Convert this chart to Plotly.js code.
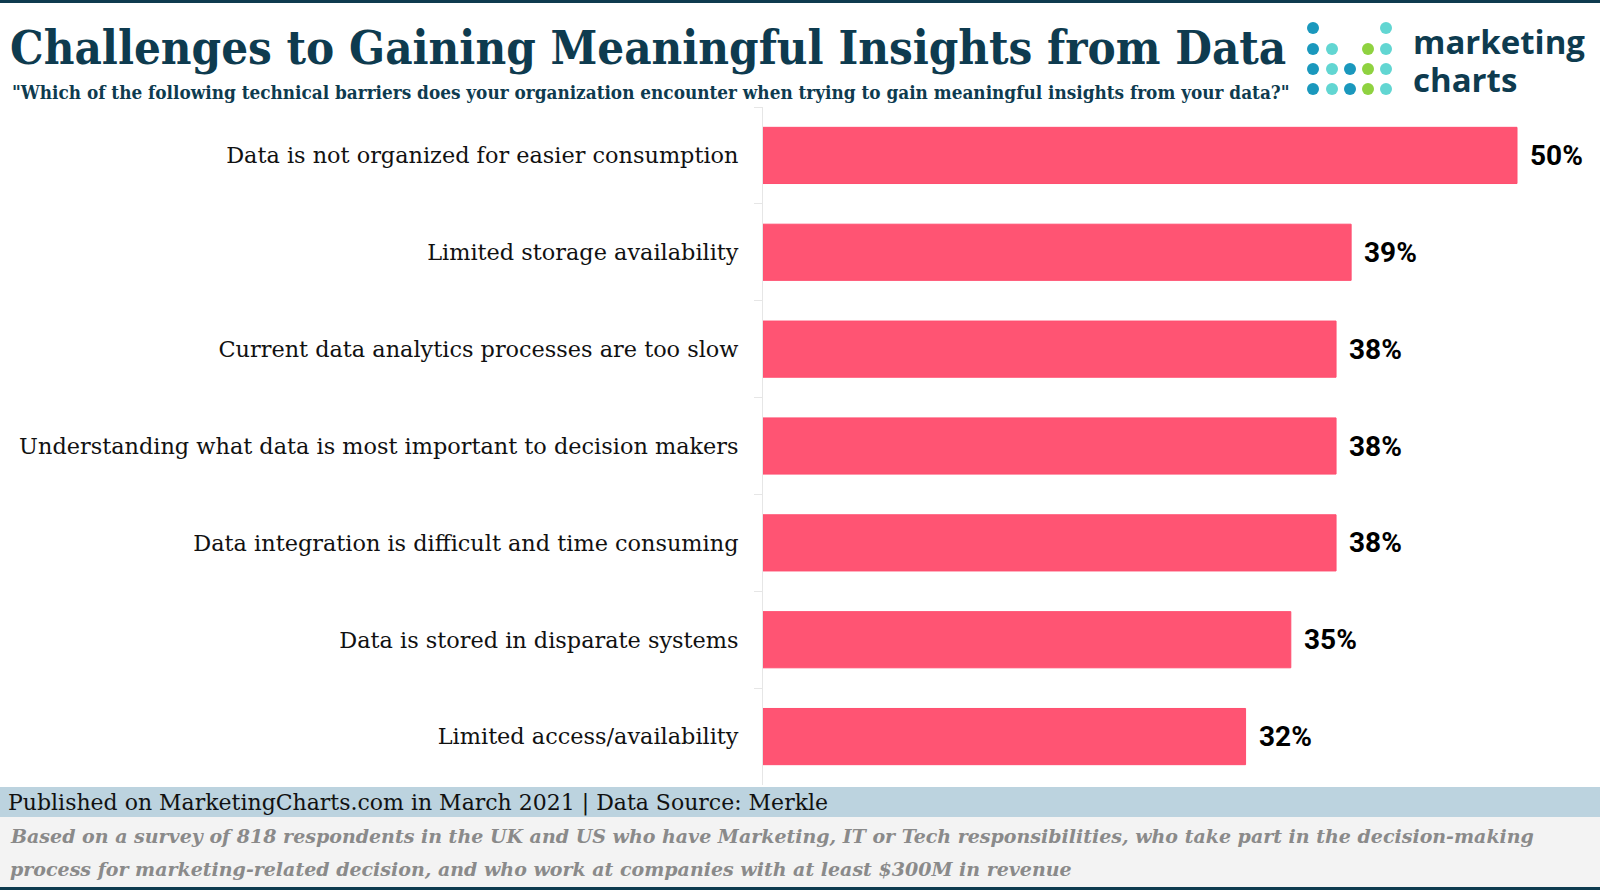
<!DOCTYPE html>
<html>
<head>
<meta charset="utf-8">
<script src="https://cdn.plot.ly/plotly-3.0.1.min.js"></script>
<style>
html,body{margin:0;padding:0;background:#fff;}
#chart{width:1600px;height:890px;}
</style>
</head>
<body>
<div id="chart"></div>
<script>
const categories = [
  "Data is not organized for easier consumption",
  "Limited storage availability",
  "Current data analytics processes are too slow",
  "Understanding what data is most important to decision makers",
  "Data integration is difficult and time consuming",
  "Data is stored in disparate systems",
  "Limited access/availability"
];
const values = [50, 39, 38, 38, 38, 35, 32];

const W = 1600, H = 890;
const px = x => x / W;
const py = y => 1 - y / H;

const DARK = "#0e3b4f";
const SERIF = "DejaVu Serif, serif";
const CSERIF = "DejaVu Serif Condensed, DejaVu Serif, serif";

const trace = {
  type: "bar",
  orientation: "h",
  x: values,
  y: categories,
  marker: {color: "#ff5473", line: {color: "#ff4f70", width: 1}},
  hoverinfo: "skip",
  cliponaxis: false
};

const annotations = values.map((v, i) => ({
  x: v, y: categories[i], xref: "x", yref: "y",
  text: v + "%", showarrow: false, xanchor: "left", yanchor: "middle",
  xshift: 11,
  font: {family: "Roboto, sans-serif", size: 28, color: "#000", weight: 700}
}));

annotations.push({
  xref: "paper", yref: "paper", x: px(10), y: py(92), xanchor: "left", yanchor: "middle",
  text: "\"Which of the following technical barriers does your organization encounter when trying to gain meaningful insights from your data?\"",
  showarrow: false, font: {family: CSERIF, size: 18.8, color: DARK, weight: 700}
});
annotations.push({
  xref: "paper", yref: "paper", x: px(1411), y: py(42), xanchor: "left", yanchor: "middle",
  text: "marketing", showarrow: false,
  font: {family: "Open Sans, sans-serif", size: 33, color: DARK, weight: 700}
});
annotations.push({
  xref: "paper", yref: "paper", x: px(1411), y: py(79), xanchor: "left", yanchor: "middle",
  text: "charts", showarrow: false,
  font: {family: "Open Sans, sans-serif", size: 33, color: DARK, weight: 700}
});
annotations.push({
  xref: "paper", yref: "paper", x: px(6), y: py(803), xanchor: "left", yanchor: "middle",
  text: "Published on MarketingCharts.com in March 2021 | Data Source: Merkle",
  showarrow: false, font: {family: SERIF, size: 22, color: "#111"}
});
annotations.push({
  xref: "paper", yref: "paper", x: px(8), y: py(836), xanchor: "left", yanchor: "middle",
  text: "<i>Based on a survey of 818 respondents in the UK and US who have Marketing, IT or Tech responsibilities, who take part in the decision-making</i>",
  showarrow: false, font: {family: SERIF, size: 19, color: "#8a8a8a", weight: 700}
});
annotations.push({
  xref: "paper", yref: "paper", x: px(8), y: py(869), xanchor: "left", yanchor: "middle",
  text: "<i>process for marketing-related decision, and who work at companies with at least $300M in revenue</i>",
  showarrow: false, font: {family: SERIF, size: 19, color: "#8a8a8a", weight: 700}
});

const shapes = [
  {type: "rect", xref: "paper", yref: "paper", x0: 0, x1: 1, y0: py(0), y1: py(3), fillcolor: DARK, line: {width: 0}, layer: "below"},
  {type: "rect", xref: "paper", yref: "paper", x0: 0, x1: 1, y0: py(787), y1: py(817), fillcolor: "#bcd3df", line: {width: 0}, layer: "below"},
  {type: "rect", xref: "paper", yref: "paper", x0: 0, x1: 1, y0: py(817), y1: py(887), fillcolor: "#f3f3f3", line: {width: 0}, layer: "below"},
  {type: "rect", xref: "paper", yref: "paper", x0: 0, x1: 1, y0: py(887), y1: py(890), fillcolor: DARK, line: {width: 0}, layer: "below"}
];

// logo dots
const BLUE = "#1a98bd", TEAL = "#62d6d2", GREEN = "#8fd240";
const dotCols = [1313, 1332, 1350, 1368, 1386];
const dotRows = [28, 49, 69, 89];
const dotMap = [
  [BLUE, null, null, null, TEAL],
  [BLUE, TEAL, null, GREEN, TEAL],
  [BLUE, TEAL, BLUE, GREEN, TEAL],
  [BLUE, TEAL, BLUE, GREEN, TEAL]
];
const r = 6;
dotMap.forEach((row, ri) => row.forEach((c, ci) => {
  if (!c) return;
  const cx = dotCols[ci], cy = dotRows[ri];
  shapes.push({type: "circle", xref: "paper", yref: "paper",
    x0: px(cx - r), x1: px(cx + r), y0: py(cy + r), y1: py(cy - r),
    fillcolor: c, line: {width: 0}});
}));

const layout = {
  width: W, height: H,
  margin: {l: 0, r: 0, t: 0, b: 0},
  paper_bgcolor: "#fff", plot_bgcolor: "#fff",
  showlegend: false,
  bargap: 0.42,
  title: {
    text: "Challenges to Gaining Meaningful Insights from Data",
    x: px(10), xanchor: "left", y: py(48), yanchor: "middle",
    font: {family: CSERIF, size: 47, color: DARK, weight: 700}
  },
  xaxis: {
    domain: [px(763), px(1590)], range: [0, 54.84],
    visible: false, fixedrange: true
  },
  yaxis: {
    domain: [py(785), py(107)],
    autorange: "reversed",
    showline: true, linecolor: "#e6e6e6", linewidth: 1,
    ticks: "outside", ticklen: 8, tickcolor: "#e6e6e6", tickson: "boundaries",
    ticklabelstandoff: 19,
    showgrid: false, zeroline: false,
    tickfont: {family: SERIF, size: 22.4, color: "#111"},
    fixedrange: true
  },
  annotations: annotations,
  shapes: shapes
};

Plotly.newPlot("chart", [trace], layout, {displayModeBar: false, staticPlot: true});
</script>
</body>
</html>
